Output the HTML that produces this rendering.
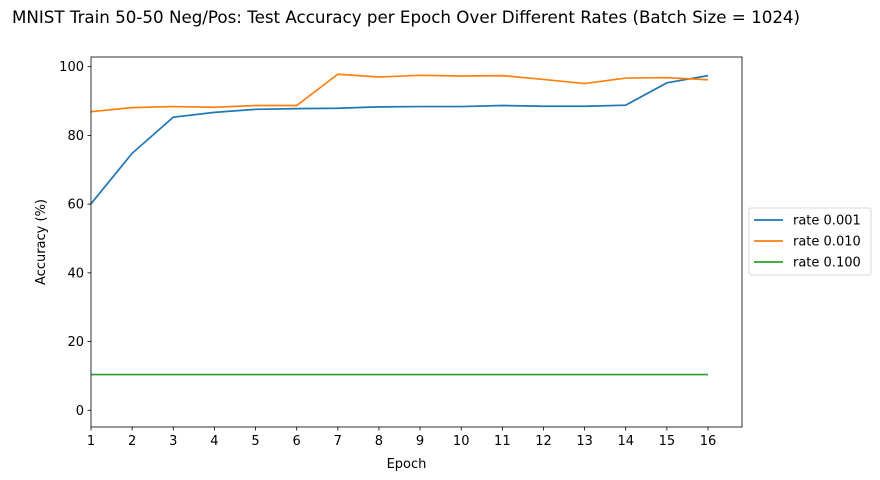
<!DOCTYPE html>
<html><head><meta charset="utf-8"><style>
body{margin:0;background:#fff}
svg{display:block;font-family:"DejaVu Sans","Liberation Sans",sans-serif}
</style></head><body>
<svg id="chart" width="880" height="480">
<text x="406" y="23" text-anchor="middle" font-size="16.7" fill="#000">MNIST Train 50-50 Neg/Pos: Test Accuracy per Epoch Over Different Rates (Batch Size = 1024)</text>
<g id="plot"></g>
</svg>
<script>
const epochs=[1,2,3,4,5,6,7,8,9,10,11,12,13,14,15,16];
const rate001=[60.1,74.8,85.3,86.7,87.6,87.8,87.9,88.3,88.4,88.4,88.7,88.5,88.5,88.8,95.3,97.4];
const rate010=[86.9,88.1,88.4,88.2,88.7,88.7,97.8,97.0,97.5,97.3,97.4,96.3,95.1,96.7,96.8,96.2];
const rate100=[10.4,10.4,10.4,10.4,10.4,10.4,10.4,10.4,10.4,10.4,10.4,10.4,10.4,10.4,10.4,10.4];
const yTicks=[0,20,40,60,80,100];
const seriesNames=["rate 0.001","rate 0.010","rate 0.100"];
const NS="http://www.w3.org/2000/svg";
const L=91,R=742,T=57,B=427;
function xs(v){return 91+(v-1)*(708-91)/15;}
function ys(v){return 410.3-v*(410.3-66.7)/100;}
const g=document.getElementById('plot');
function mk(tag,attrs,parent){const e=document.createElementNS(NS,tag);for(const k in attrs)e.setAttribute(k,attrs[k]);(parent||g).appendChild(e);return e;}
yTicks.forEach(t=>{
  const y=ys(t);
  const tk=mk('line',{x1:L-3.5,x2:L,y1:y,y2:y,stroke:'#000','stroke-width':0.8});
  
  
  const tx=mk('text',{x:L-7,y:y+4.5,'text-anchor':'end','font-size':13});
  tx.textContent=t;
  
  
});
epochs.forEach(e=>{
  const x=xs(e);
  const tk=mk('line',{x1:x,x2:x,y1:B,y2:B+3.5,stroke:'#000','stroke-width':0.8});
  
  
  const tx=mk('text',{x:x,y:B+18,'text-anchor':'middle','font-size':13});
  tx.textContent=e;
  
  
});
const colors=['#1f77b4','#ff7f0e','#2ca02c'];
[rate001,rate010,rate100].forEach((s,i)=>{
  const p=mk('polyline',{points:s.map((v,j)=>xs(epochs[j])+','+ys(v)).join(' '),fill:'none',stroke:colors[i],'stroke-width':1.7});
  
  
});
const fr=mk('rect',{x:L,y:T,width:R-L,height:B-T,fill:'none',stroke:'#000','stroke-width':0.8});


const xl=mk('text',{x:(L+R)/2-10,y:468,'text-anchor':'middle','font-size':13});
xl.textContent='Epoch';


const yl=mk('text',{x:0,y:0,'text-anchor':'middle','font-size':13,transform:'translate(45,242) rotate(-90)'});
yl.textContent='Accuracy (%)';


const lg=mk('rect',{x:749,y:208,width:122,height:67,rx:2,fill:'#fff',stroke:'#ccc','stroke-width':0.8});


seriesNames.forEach((n,i)=>{
  const y=220+i*21;
  const ln=mk('line',{x1:754,x2:783,y1:y,y2:y,stroke:colors[i],'stroke-width':1.7});
  
  
  const t=mk('text',{x:793,y:y+4.5,'font-size':13});
  t.textContent=n;
  
  
});
</script>
</body></html>
